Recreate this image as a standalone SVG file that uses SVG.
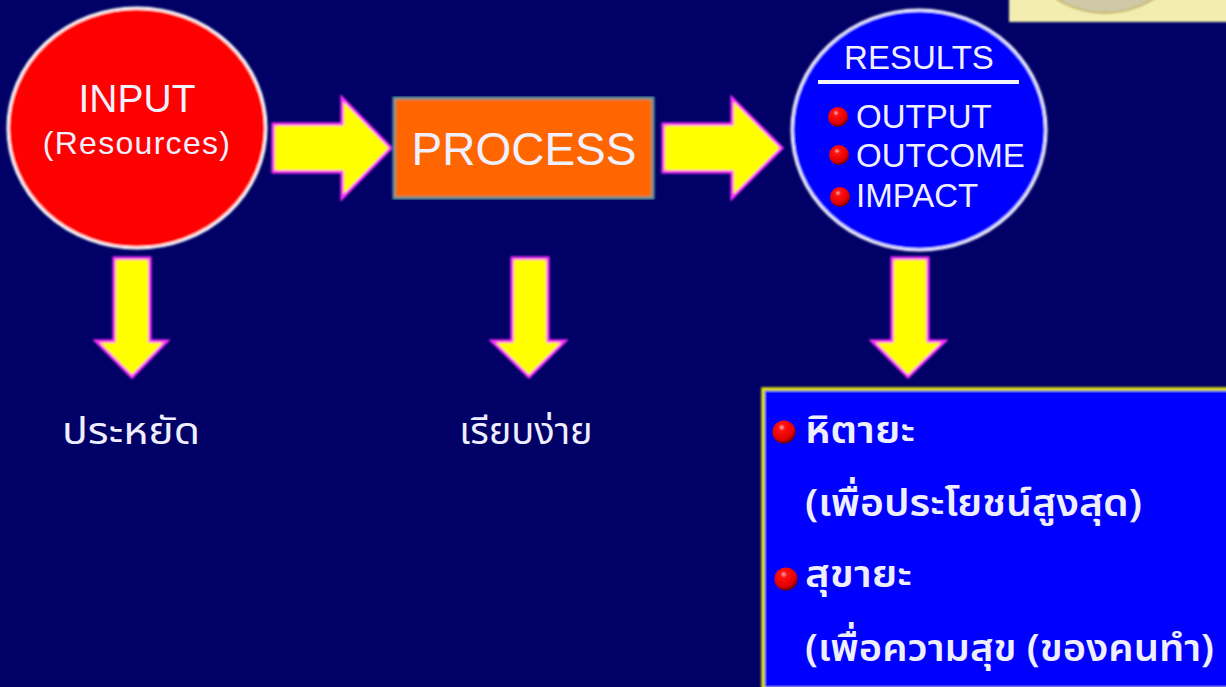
<svg xmlns="http://www.w3.org/2000/svg" width="1226" height="687" viewBox="0 0 1226 687">
<style>
.arrow{fill:#ffff00;stroke:#ff33ff;stroke-width:3;stroke-linejoin:miter}
.en{font-family:"Liberation Sans",Arial,sans-serif;fill:#f0f0ff}
.th{font-family:"Noto Sans Thai","Noto Serif Thai","Loma","Garuda","Noto Sans","DejaVu Serif",serif;fill:#eeeeff}
.thb{font-weight:600}
</style>
<defs>
<radialGradient id="ball" cx="0.4" cy="0.3" r="0.75">
<stop offset="0" stop-color="#ffb0b0"/><stop offset="0.2" stop-color="#ff1010"/><stop offset="0.7" stop-color="#e00000"/><stop offset="1" stop-color="#500000"/>
</radialGradient>
<filter id="soft" x="-2%" y="-2%" width="104%" height="104%"><feGaussianBlur stdDeviation="0.8"/></filter>
</defs>
<rect width="1226" height="687" fill="#000066"/>
<g id="emblem" filter="url(#soft)">
<rect x="1009" y="-2" width="219" height="24" fill="#f3eeb0"/>
<circle cx="1105" cy="-78" r="91" fill="#cfc9a8" stroke="#c9b566" stroke-width="2"/>
</g>
<g id="connectors" filter="url(#soft)">
<path class="arrow" d="M273 124H342V98L391 148L342 198V172H273Z"/>
<path class="arrow" d="M663 124H732V98L782 148L732 198V172H663Z"/>
<path class="arrow" d="M114 258H150V341H167L132 377L96 341H114Z"/>
<path class="arrow" d="M512 258H548V341H565L529 377L492 341H512Z"/>
<path class="arrow" d="M892 258H928V341H945L908 377L872 341H892Z"/>
</g>
<g id="input">
<ellipse cx="137" cy="128" rx="129" ry="120" fill="#ff0000" stroke="#ffffff" stroke-width="3" filter="url(#soft)"/>
<text class="en" x="137" y="112" font-size="39" text-anchor="middle">INPUT</text>
<text class="en" x="137" y="154" font-size="32" text-anchor="middle" letter-spacing="1.3">(Resources)</text>
</g>
<g id="process">
<rect x="394" y="98" width="259" height="100" fill="#ff6600" stroke="#669999" stroke-width="3" filter="url(#soft)"/>
<text class="en" x="524" y="165" font-size="46" text-anchor="middle">PROCESS</text>
</g>
<g id="results">
<ellipse cx="919" cy="130" rx="127" ry="120" fill="#0000ff" stroke="#f4f4ff" stroke-width="3" filter="url(#soft)"/>
<text class="en" x="919" y="69" font-size="33" text-anchor="middle">RESULTS</text>
<line x1="818" y1="82" x2="1019" y2="82" stroke="#f4f4ff" stroke-width="4"/>
<circle cx="838" cy="117" r="10" fill="url(#ball)"/>
<text class="en" x="856" y="128" font-size="33">OUTPUT</text>
<circle cx="839" cy="155" r="10" fill="url(#ball)"/>
<text class="en" x="856" y="167" font-size="33">OUTCOME</text>
<circle cx="840" cy="197" r="10" fill="url(#ball)"/>
<text class="en" x="856" y="207" font-size="33">IMPACT</text>
</g>
<g id="label-economy"><text class="th" x="62" y="444" font-size="38" textLength="138" lengthAdjust="spacingAndGlyphs">ประหยัด</text></g>
<g id="label-simple"><text class="th" x="526" y="444" font-size="38" text-anchor="middle">เรียบง่าย</text></g>
<g id="benefits">
<rect x="763" y="389" width="470" height="300" fill="#0000ff" stroke="#e6e600" stroke-width="3.5" filter="url(#soft)"/>
<circle cx="784" cy="432" r="11.5" fill="url(#ball)"/>
<text class="th thb" x="805" y="443" font-size="38" textLength="110" lengthAdjust="spacingAndGlyphs">หิตายะ</text>
<text class="th thb" x="805" y="516" font-size="38" textLength="337" lengthAdjust="spacingAndGlyphs">(เพื่อประโยชน์สูงสุด)</text>
<circle cx="786" cy="579" r="11.5" fill="url(#ball)"/>
<text class="th thb" x="805" y="587" font-size="38" textLength="107" lengthAdjust="spacingAndGlyphs">สุขายะ</text>
<text class="th thb" x="805" y="661" font-size="38" textLength="409" lengthAdjust="spacingAndGlyphs">(เพื่อความสุข (ของคนทำ)</text>
</g>
</svg>
